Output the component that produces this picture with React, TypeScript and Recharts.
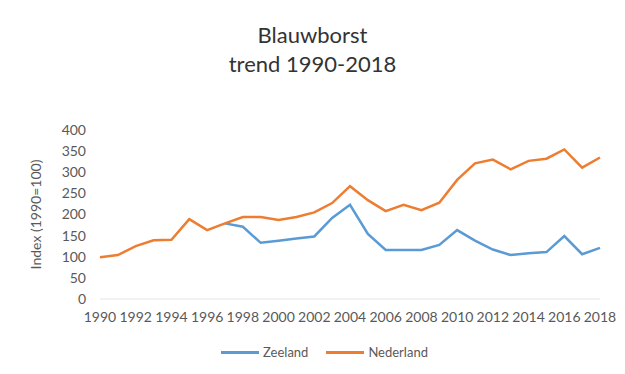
import React from 'react';
import { LineChart, Line, XAxis, YAxis, Label } from 'recharts';

const years = [
  1990, 1991, 1992, 1993, 1994, 1995, 1996, 1997, 1998, 1999,
  2000, 2001, 2002, 2003, 2004, 2005, 2006, 2007, 2008, 2009,
  2010, 2011, 2012, 2013, 2014, 2015, 2016, 2017, 2018,
];

// Zeeland only shows up from 1997 on (before that it lies under Nederland)
const zeeland = [
  null, null, null, null, null, null, null, 179, 171, 133,
  138, 143, 148, 192, 223, 154, 116, 116, 116, 128,
  163, 138, 117, 104, 108, 111, 149, 106, 121,
];

const nederland = [
  99, 104, 125, 139, 140, 189, 163, 179, 194, 194,
  187, 194, 205, 227, 267, 234, 208, 223, 210, 228,
  282, 321, 330, 307, 327, 332, 354, 311, 335,
];

const yTicks = [0, 50, 100, 150, 200, 250, 300, 350, 400];

const series = [
  { key: 'Zeeland', color: '#5B9BD5' },
  { key: 'Nederland', color: '#ED7D31' },
];

const data = years.map((y, i) => ({
  year: String(y),
  Zeeland: zeeland[i],
  Nederland: nederland[i],
}));

const FONT = 'Lato, "Open Sans", sans-serif';
const GREY = '#595959';

export default function App() {
  return (
    <div style={{ position: 'absolute', left: 0, top: 0, width: 625, height: 374, background: '#fff', fontFamily: FONT }}>
      <div style={{ position: 'absolute', left: 0, width: 625, top: 20, textAlign: 'center', fontSize: 22, lineHeight: '29px', color: '#333' }}>
        <div>Blauwborst</div>
        <div>trend 1990-2018</div>
      </div>
      <LineChart
        width={625}
        height={374}
        data={data}
        margin={{ top: 130, right: 25, bottom: 45, left: 52 }}
        style={{ position: 'absolute', left: 0, top: 0 }}
      >
        <XAxis
          dataKey="year"
          interval={1}
          tickLine={false}
          axisLine={{ stroke: '#e4e4e4' }}
          tick={{ fill: GREY, fontSize: 14, fontFamily: FONT }}
          tickMargin={7}
        />
        <YAxis
          domain={[0, 400]}
          ticks={yTicks}
          interval={0}
          width={48}
          tickLine={false}
          axisLine={false}
          tick={{ fill: GREY, fontSize: 14, fontFamily: FONT }}
          tickMargin={8}
        >
          <Label
            value="Index (1990=100)"
            angle={-90}
            position="insideLeft"
            offset={-16}
            style={{ fill: GREY, fontSize: 14, fontFamily: FONT, textAnchor: 'middle' }}
          />
        </YAxis>
        {series.map((s) => (
          <Line
            key={s.key}
            dataKey={s.key}
            stroke={s.color}
            strokeWidth={2.5}
            dot={false}
            isAnimationActive={false}
          />
        ))}
      </LineChart>
      <div style={{ position: 'absolute', top: 344, left: 12, width: 625, display: 'flex', justifyContent: 'center', fontSize: 13, color: GREY }}>
        {series.map((s) => (
          <div key={s.key} style={{ display: 'flex', alignItems: 'center', margin: '0 9px' }}>
            <div style={{ width: 38, height: 3, background: s.color, marginRight: 4 }} />
            <span>{s.key}</span>
          </div>
        ))}
      </div>
    </div>
  );
}
